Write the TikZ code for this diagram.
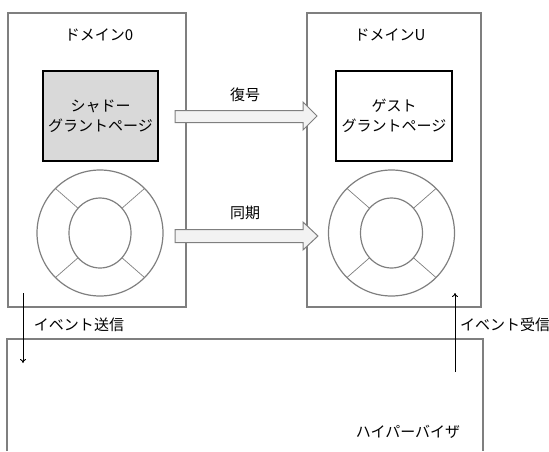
\documentclass[tikz,border=0pt]{standalone}
\usepackage{fontspec}
\setmainfont{Noto Sans CJK JP}
\usetikzlibrary{arrows.meta,calc}
\definecolor{boxgray}{HTML}{7F7F7F}
\definecolor{arrowfill}{HTML}{F2F2F2}
\definecolor{shadowfill}{HTML}{D9D9D9}
\begin{document}
\begin{tikzpicture}[x=1pt,y=-1pt,
  every node/.style={font=\fontsize{15}{19.5}\selectfont, inner sep=0pt},
  dombox/.style={draw=boxgray, line width=1.3pt, minimum width=#1, minimum height=294pt},
  pagebox/.style={draw=black, line width=1.3pt, minimum width=#1, minimum height=90pt, align=center},
  ringline/.style={draw=boxgray, line width=1.2pt},
  spokeline/.style={draw=boxgray, line width=0.7pt},
  blockarrow/.style={draw=boxgray, line width=1pt, fill=arrowfill},
  eventarrow/.style={draw=black, line width=0.9pt, -{To[length=4pt,width=6pt]}},
  lbl/.style={text=black}
]
\useasboundingbox (0,0) rectangle (549,451);

% hypervisor (open at the bottom)
\draw[draw=boxgray, line width=1.3pt] (7,451) -- (7,339) -- (483,339) -- (483,451);
\node[lbl] (hv) at (408,432) {ハイパーバイザ};

% domain boxes
\node[dombox=178pt] (dom0) at (97,160) {};
\node[dombox=174pt] (domU) at (394,160) {};
\node[lbl] (t0) at (99,35) {ドメイン0};
\node[lbl] (tU) at (390,35) {ドメインU};

% grant page boxes
\node[pagebox=115pt, fill=shadowfill] (shadow) at (100.5,116) {シャドー\\グラントページ};
\node[pagebox=116pt] (guest) at (394,116) {ゲスト\\グラントページ};

% rings
\foreach \cx/\nm in {100/ringL, 391.5/ringU}{
  \coordinate (\nm) at (\cx,233);
  \draw[ringline] (\nm) circle[radius=63];
  \draw[ringline] (\nm) ellipse[x radius=31, y radius=35];
  \foreach \a in {45,135,225,315}{
    \draw[spokeline] ($(\nm)+({63*cos(\a)},{63*sin(\a)})$) -- ($(\nm)+({31*cos(\a)},{35*sin(\a)})$);
  }
}

% block arrows
\draw[blockarrow] (175,110.5) -- (303,110.5) -- (303,102) -- (317,116) -- (303,130) -- (303,122.5) -- (175,122.5) -- cycle;
\node[lbl] (dec) at (245,95) {復号};
\draw[blockarrow] (175,229.5) -- (303,229.5) -- (303,222) -- (318,236) -- (303,250) -- (303,242.5) -- (175,242.5) -- cycle;
\node[lbl] (sync) at (245,213) {同期};

% event arrows
\coordinate (sendA) at (23,293);
\coordinate (sendB) at (23,363);
\coordinate (recvA) at (455,372);
\coordinate (recvB) at (455,293);
\draw[eventarrow] (sendA) -- (sendB);
\draw[eventarrow] (recvA) -- (recvB);
\node[lbl] (send) at (79,325) {イベント送信};
\node[lbl] (recv) at (505,325) {イベント受信};
\end{tikzpicture}
\end{document}
